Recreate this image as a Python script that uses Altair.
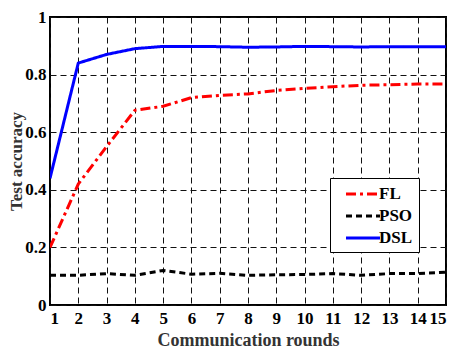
import altair as alt
import pandas as pd

rounds = list(range(1, 16))
fl = [0.20, 0.42, 0.55, 0.676, 0.69, 0.72, 0.728, 0.733, 0.745, 0.752, 0.758, 0.763, 0.765, 0.767, 0.767]
pso = [0.103, 0.103, 0.109, 0.103, 0.12, 0.107, 0.11, 0.103, 0.105, 0.106, 0.109, 0.103, 0.109, 0.109, 0.114]
dsl = [0.44, 0.84, 0.87, 0.89, 0.898, 0.898, 0.897, 0.895, 0.896, 0.898, 0.897, 0.896, 0.897, 0.897, 0.897]
series = ["FL", "PSO", "DSL"]
colors = ["#ff0000", "#000000", "#0000ff"]
dashes = [[10, 4, 3, 4], [6, 4], [1, 0]]

rows = []
for name, vals in zip(series, [fl, pso, dsl]):
    for r, v in zip(rounds, vals):
        rows.append({"round": r, "acc": v, "method": name})
df = pd.DataFrame(rows)

font = "Liberation Serif"

chart = alt.Chart(df).mark_line(strokeWidth=3, strokeCap="butt", clip=True).encode(
    x=alt.X("round:Q", scale=alt.Scale(domain=[1, 15], nice=False),
            axis=alt.Axis(values=rounds, title="Communication rounds", format="d",
                          titleY=40, titleBaseline="alphabetic")),
    y=alt.Y("acc:Q", scale=alt.Scale(domain=[0, 1], nice=False),
            axis=alt.Axis(values=[0, 0.2, 0.4, 0.6, 0.8, 1], format="~g", title="Test accuracy",
                          titleX=-34, titleY=144, titleAngle=-90, titleAlign="center",
                          titleBaseline="middle", titleFontSize=17)),
    color=alt.Color("method:N", scale=alt.Scale(domain=series, range=colors), title=None),
    strokeDash=alt.StrokeDash("method:N", scale=alt.Scale(domain=series, range=dashes), title=None),
).properties(
    width=396, height=288,
    autosize=alt.AutoSizeParams(type="none"),
    padding={"left": 42, "top": 9, "right": 10, "bottom": 43},
).configure_view(
    stroke="black", strokeWidth=2,
).configure_axis(
    labelFont=font, labelFontSize=17, labelFontWeight="bold", labelColor="black",
    titleFont=font, titleFontSize=18, titleFontWeight="bold", titleColor="#333333",
    grid=True, gridColor="#111111", gridDash=[6, 4], gridWidth=1, gridOpacity=1,
    ticks=False, domain=False, labelPadding=4,
).configure_axisX(labelPadding=5).configure_legend(
    orient="none", legendX=280, legendY=161,
    fillColor="white", strokeColor="black", strokeWidth=1,
    padding=6, labelFont=font, labelFontSize=17, labelFontWeight="bold", labelColor="black",
    symbolType="M-2,0H2", symbolSize=289, symbolStrokeWidth=3, labelOffset=6,
    symbolOffset=17, rowPadding=4,
)

chart.save("out.html", embed_options={"renderer": "svg", "actions": False})
